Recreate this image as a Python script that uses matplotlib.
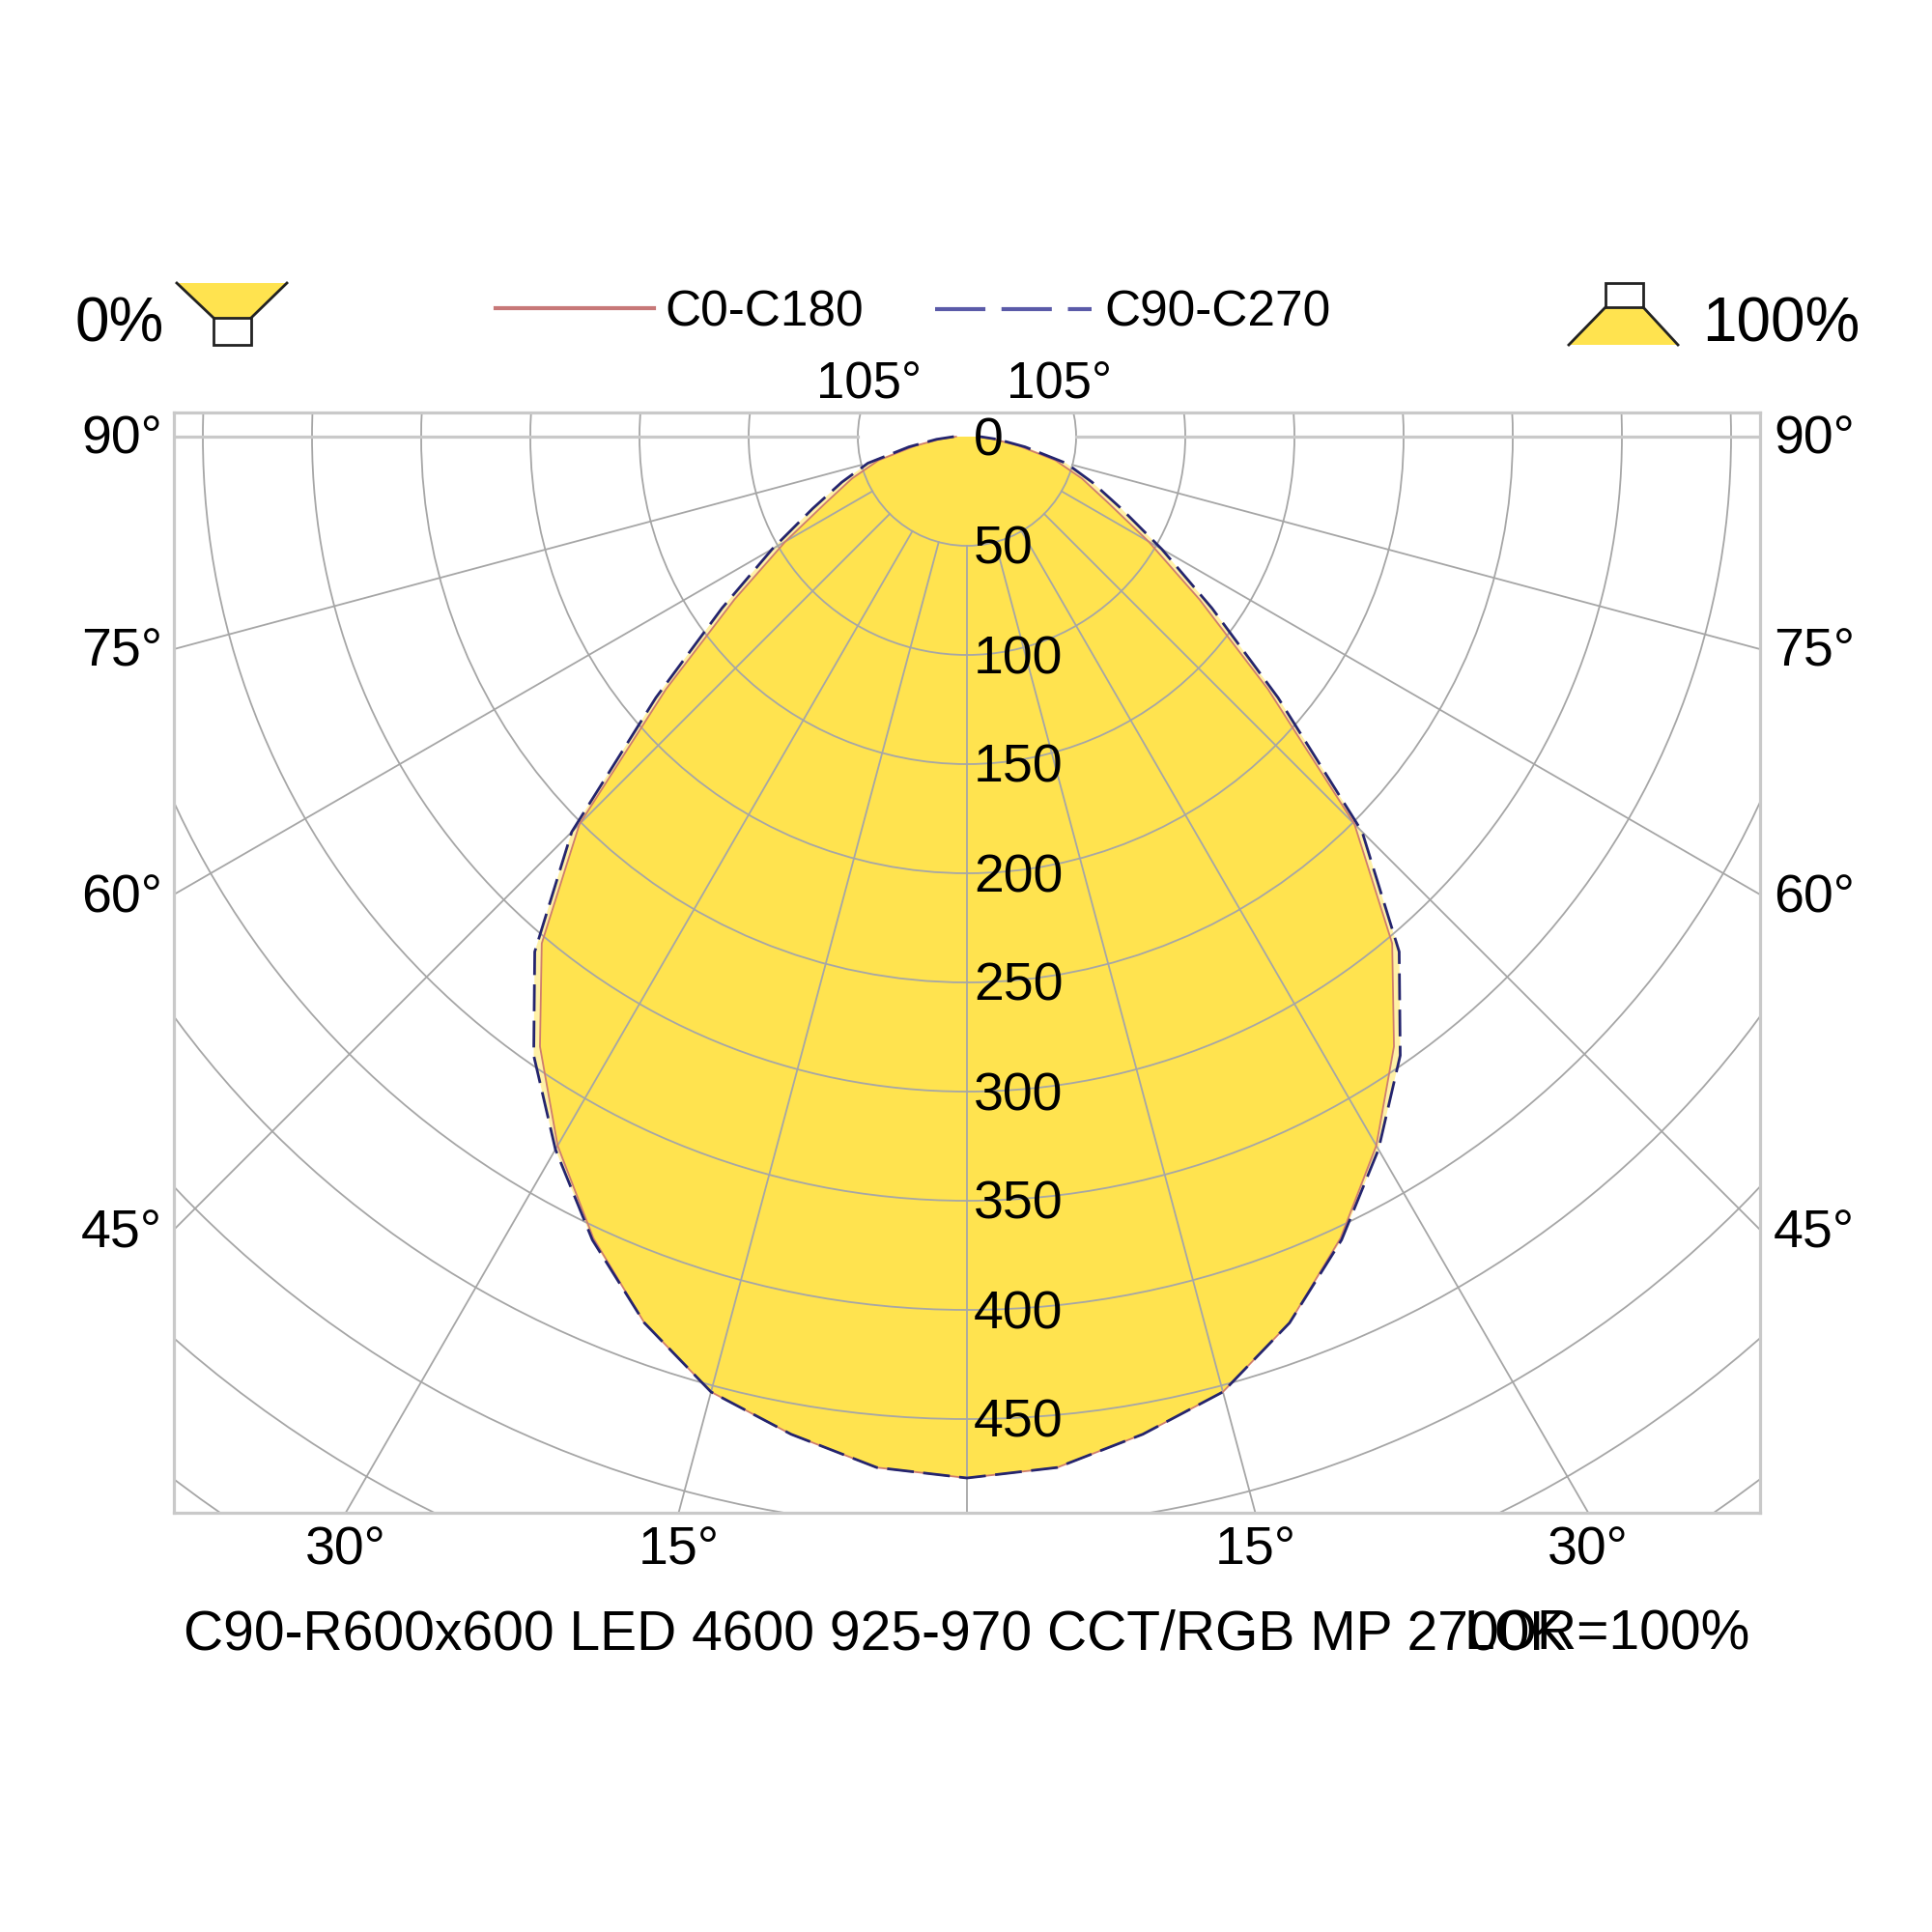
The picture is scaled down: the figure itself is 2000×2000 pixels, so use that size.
import numpy as np
import matplotlib
matplotlib.use('Agg')
import matplotlib.pyplot as plt
from matplotlib.patches import Circle, Polygon, Rectangle
from matplotlib.lines import Line2D
from matplotlib.transforms import Affine2D

plt.rcParams['font.family'] = ['Liberation Sans', 'DejaVu Sans']

# ---------------- data ----------------
gamma = [0, 5, 10, 15, 20, 25, 30, 35, 40, 45, 50, 55, 60, 65, 70, 75, 80, 85, 90]
c0_c180 = [477, 474, 464, 453, 432, 405, 375, 341, 303, 251, 180, 130, 96, 71, 56, 42, 24, 12, 5]
c90_c270 = [477, 474, 464, 453, 432, 406, 377, 346, 308, 256, 186, 137, 103, 78, 61, 47, 27, 14, 6]
ring_values = [50, 100, 150, 200, 250, 300, 350, 400, 450, 500, 550, 600]
ring_labels = [0, 50, 100, 150, 200, 250, 300, 350, 400, 450]
side_angles = [90, 75, 60, 45]
bottom_angles = [30, 15]
top_angle = 105
legend_labels = ['C0-C180', 'C90-C270']
caption = 'C90-R600x600 LED 4600 925-970 CCT/RGB MP 2700K'
lor_text = 'LOR=100%'
down_text = '0%'
up_text = '100%'

# ---------------- style ----------------
YELLOW = '#FFE34F'
PALE = '#FFF1A6'
GRID = '#A6A6A6'
FRAME = '#C9C9C9'
C0_COL = '#CF7D6E'
C90_COL = '#24246E'
LEG_C0 = '#C77878'
LEG_C90 = '#5A5AA8'

W = H = 2000
fig = plt.figure(figsize=(20, 20), dpi=100)
fig.patch.set_facecolor('white')
px = Affine2D().scale(1 / W, -1 / H).translate(0, 1) + fig.transFigure

cx, cy = 1001, 452
scale = 2.26  # pixels per cd
left, right, top, bottom = 180, 1822, 427, 1566

ax = fig.add_axes([left / W, 1 - bottom / H, (right - left) / W, (bottom - top) / H])
ax.set_xlim((left - cx) / scale, (right - cx) / scale)
ax.set_ylim(-(bottom - cy) / scale, (cy - top) / scale)
ax.set_xticks([])
ax.set_yticks([])
for s in ax.spines.values():
    s.set_color(FRAME)
    s.set_linewidth(2.3)

g = np.radians(np.array(gamma, float))


def curve(vals):
    v = np.asarray(vals, float)
    th = np.concatenate([-g[::-1], g[1:]])
    r = np.concatenate([v[::-1], v[1:]])
    return r * np.sin(th), -r * np.cos(th)


x90, y90 = curve(c90_c270)
x0, y0 = curve(c0_c180)
ax.fill(x90, y90, color=PALE, lw=0, zorder=1)
ax.fill(x0, y0, color=YELLOW, lw=0, zorder=1.5)

# grid rings
for r in ring_values:
    ax.add_patch(Circle((0, 0), r, fill=False, ec=GRID, lw=1.3, zorder=2))
# radial lines
for a in range(-75, 76, 15):
    t = np.radians(a)
    ax.plot([50 * np.sin(t), 1200 * np.sin(t)], [-50 * np.cos(t), -1200 * np.cos(t)],
            color=GRID, lw=1.3, zorder=2)
for sgn in (-1, 1):
    ax.plot([sgn * 50, sgn * 1200], [0, 0], color=FRAME, lw=2.3, zorder=2)

# curves
ax.plot(x0, y0, color=C0_COL, lw=1.3, zorder=3)
ax.plot(x90, y90, color=C90_COL, lw=2.0, ls=(0, (10, 3.5)), zorder=4)

# ---------------- text ----------------
FS_ANG = 40
for a in side_angles:
    dy = (cx - left) / np.tan(np.radians(a)) if a != 90 else 0.0
    yb = cy + dy + 18
    fig.text(168, yb, f'{a}°', transform=px, ha='right', va='baseline', fontsize=FS_ANG)
    fig.text(1836, yb, f'{a}°', transform=px, ha='left', va='baseline', fontsize=FS_ANG)
for a in bottom_angles:
    dx = (bottom - cy) * np.tan(np.radians(a))
    for sgn in (-1, 1):
        fig.text(cx + sgn * dx, 1619, f'{a}°', transform=px, ha='center', va='baseline',
                 fontsize=FS_ANG)
dx105 = (cy - top) / np.tan(np.radians(top_angle - 90))
fig.text(cx - dx105 - 8, 411, f'{top_angle}°', transform=px, ha='center',
         va='baseline', fontsize=38)
fig.text(cx + dx105 + 2, 411, f'{top_angle}°', transform=px, ha='center',
         va='baseline', fontsize=38)

for r in ring_labels:
    fig.text(1008, cy + r * scale + 19, str(r), transform=px, ha='left', va='baseline',
             fontsize=FS_ANG, zorder=5)

# caption
fig.text(190, 1708, caption, transform=px, ha='left', va='baseline', fontsize=41)
fig.text(1812, 1708, lor_text, transform=px, ha='right', va='baseline', fontsize=41)

# legend
fig.add_artist(Line2D([513, 677], [319, 319], transform=px, color=LEG_C0, lw=3))
fig.text(688, 337, legend_labels[0], transform=px, ha='left', va='baseline', fontsize=37)
fig.add_artist(Line2D([968, 1130], [320, 320], transform=px, color=LEG_C90, lw=3,
                      ls=(0, (12.5, 4))))
fig.text(1143, 337, legend_labels[1], transform=px, ha='left', va='baseline', fontsize=37)

# 0% / 100% indicators
fig.text(78, 353, down_text, transform=px, ha='left', va='baseline', fontsize=46)
fig.text(1925, 353, up_text, transform=px, ha='right', va='baseline', fontsize=46)

fig.add_artist(Polygon([[183, 293], [297, 293], [260, 329], [221, 329]], closed=True,
                       transform=px, fc=YELLOW, ec='none'))
fig.add_artist(Line2D([183, 221], [293, 329], transform=px, color='#222222', lw=2))
fig.add_artist(Line2D([297, 260], [293, 329], transform=px, color='#222222', lw=2))
fig.add_artist(Rectangle((221, 329), 39, 28, transform=px, fc='white', ec='#222222', lw=2))

fig.add_artist(Polygon([[1662, 318], [1701, 318], [1737, 357], [1624, 357]], closed=True,
                       transform=px, fc=YELLOW, ec='none'))
fig.add_artist(Line2D([1662, 1624], [318, 357], transform=px, color='#222222', lw=2))
fig.add_artist(Line2D([1701, 1737], [318, 357], transform=px, color='#222222', lw=2))
fig.add_artist(Rectangle((1662, 293), 39, 25, transform=px, fc='white', ec='#222222', lw=2))

fig.savefig('out.png', dpi=100, facecolor='white')
